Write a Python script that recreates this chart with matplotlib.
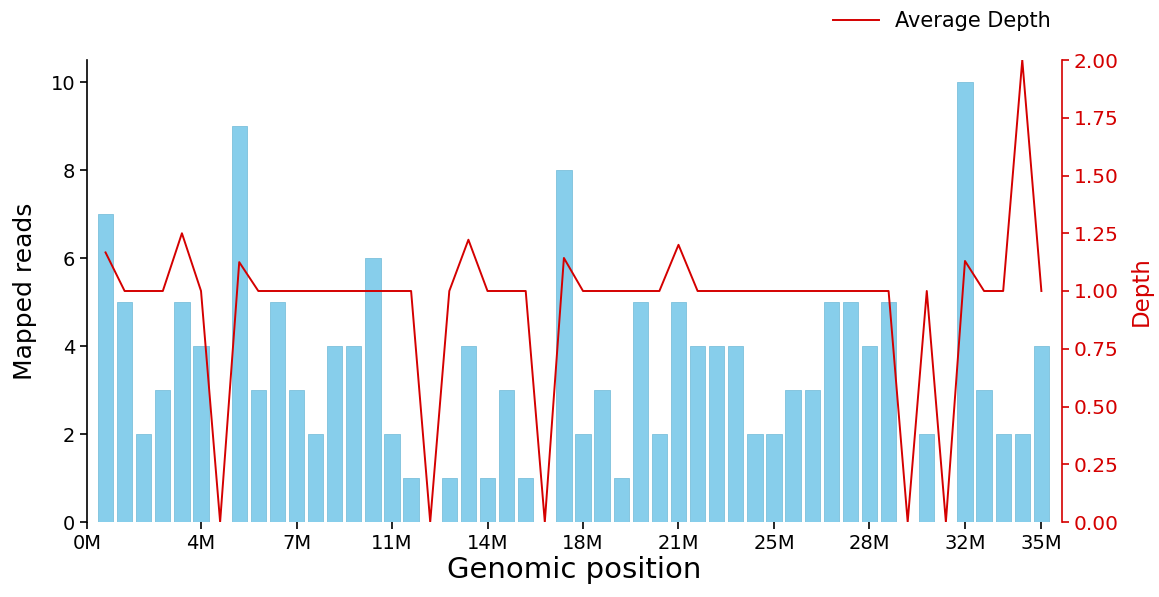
import matplotlib
matplotlib.use("Agg")
import matplotlib.pyplot as plt
import numpy as np

# Data
bin_index = list(range(50))
mapped_reads = [7, 5, 2, 3, 5, 4, 0, 9, 3, 5,
                3, 2, 4, 4, 6, 2, 1, 0, 1, 4,
                1, 3, 1, 0, 8, 2, 3, 1, 5, 2,
                5, 4, 4, 4, 2, 2, 3, 3, 5, 5,
                4, 5, 0, 2, 0, 10, 3, 2, 2, 4]
avg_depth = [1.167, 1.0, 1.0, 1.0, 1.25, 1.0, 0.0, 1.125, 1.0, 1.0,
             1.0, 1.0, 1.0, 1.0, 1.0, 1.0, 1.0, 0.0, 1.0, 1.222,
             1.0, 1.0, 1.0, 0.0, 1.143, 1.0, 1.0, 1.0, 1.0, 1.0,
             1.2, 1.0, 1.0, 1.0, 1.0, 1.0, 1.0, 1.0, 1.0, 1.0,
             1.0, 1.0, 0.0, 1.0, 0.0, 1.13, 1.0, 1.0, 2.0, 1.0]
tick_positions = [-0.97, 5, 10, 15, 20, 25, 30, 35, 40, 45, 49]
tick_labels = ["0M", "4M", "7M", "11M", "14M", "18M", "21M", "25M", "28M", "32M", "35M"]

red = "#d40000"

fig = plt.figure(figsize=(11.59, 5.97), dpi=100)
ax = fig.add_axes([87/1159, 1-522/597, (1062-87)/1159, (522-60)/597])

ax.bar(bin_index, mapped_reads, width=0.8, color="#87CEEB", edgecolor="#7cc0dc", linewidth=0.6)
ax.set_xlim(-0.97, 50.08)
ax.set_ylim(0, 10.5)
ax.set_yticks([0, 2, 4, 6, 8, 10])
ax.set_xticks(tick_positions)
ax.set_xticklabels(tick_labels)
ax.tick_params(axis="both", labelsize=14, length=5, width=1.2)
ax.spines["top"].set_visible(False)
ax.spines["right"].set_visible(False)
ax.spines["bottom"].set_visible(False)
ax.spines["left"].set_linewidth(1.2)
ax.set_ylabel("Mapped reads", fontsize=18, labelpad=10)
ax.set_xlabel("Genomic position", fontsize=21, labelpad=2)

ax2 = ax.twinx()
ax2.plot(bin_index, avg_depth, color=red, linewidth=1.4, label="Average Depth")
ax2.set_ylim(0, 2.0)
ax2.set_yticks([0, 0.25, 0.5, 0.75, 1.0, 1.25, 1.5, 1.75, 2.0])
ax2.set_yticklabels([f"{v:.2f}" for v in [0, 0.25, 0.5, 0.75, 1.0, 1.25, 1.5, 1.75, 2.0]])
ax2.tick_params(axis="y", colors=red, labelsize=14.5, length=5, width=1.2)
for s in ["top", "left", "bottom"]:
    ax2.spines[s].set_visible(False)
ax2.spines["right"].set_color(red)
ax2.spines["right"].set_linewidth(1.2)
ax2.set_ylabel("Depth", fontsize=16.5, color=red, labelpad=8)

fig.legend(loc="upper right", bbox_to_anchor=(1070/1159, 1.013), frameon=False, fontsize=15,
           handlelength=2.2)

fig.savefig("out.png", dpi=100)
